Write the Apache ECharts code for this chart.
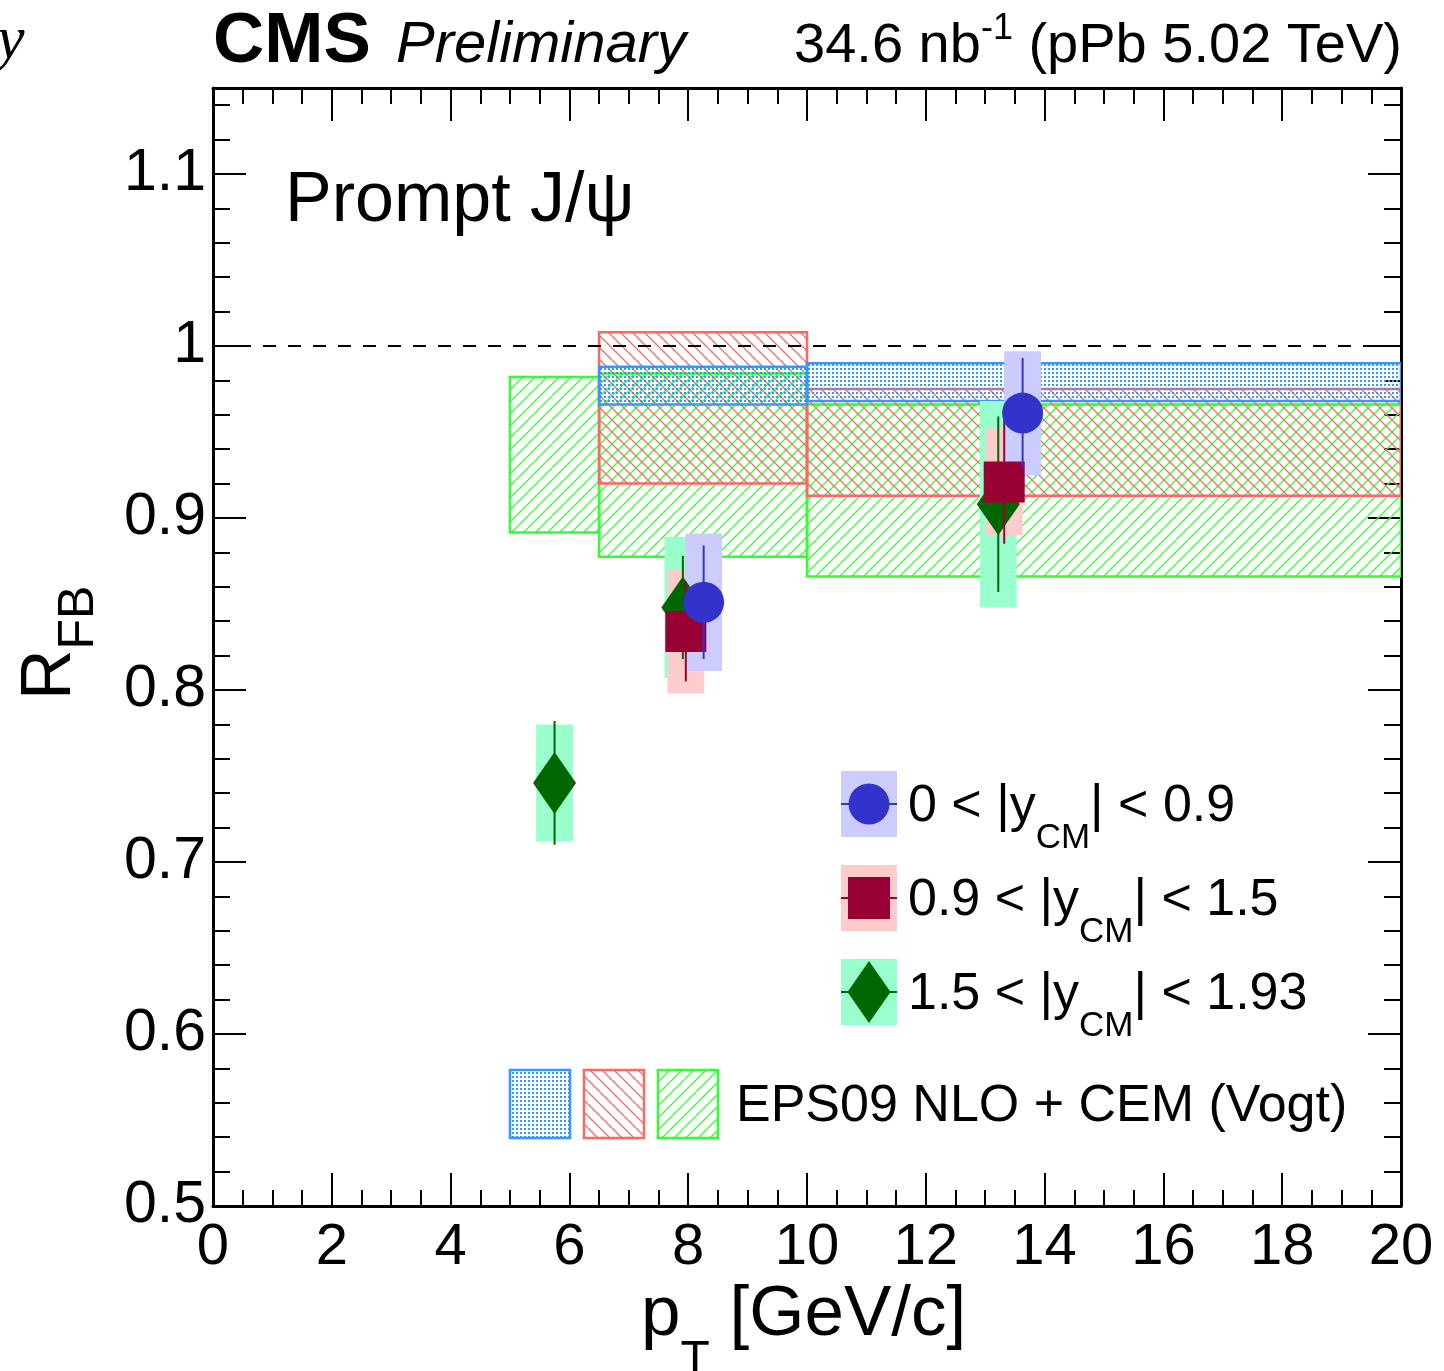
<!DOCTYPE html>
<html><head><meta charset="utf-8">
<script src="https://cdn.jsdelivr.net/npm/echarts@6/dist/echarts.min.js"></script>
<style>html,body{margin:0;padding:0;background:#fff}#c{width:1444px;height:1371px}</style>
</head><body><div id="c"></div>
<script>
// ------------------ DATA ------------------
const xRange = [0, 20];
const yRange = [0.5, 1.15];
const xTickValues = [0, 2, 4, 6, 8, 10, 12, 14, 16, 18, 20];
const xTickLabels = ['0', '2', '4', '6', '8', '10', '12', '14', '16', '18', '20'];
const yTickValues = [0.5, 0.6, 0.7, 0.8, 0.9, 1.0, 1.1];
const yTickLabels = ['0.5', '0.6', '0.7', '0.8', '0.9', '1', '1.1'];
const unityLevel = 1.0;

// data points: 0 < |y_CM| < 0.9
const bluePt = [8.26, 13.63];
const blueVal = [0.851, 0.961];
const blueStat = [0.033, 0.032];
const blueSyst = [0.040, 0.036];
// 0.9 < |y_CM| < 1.5
const redPt = [7.96, 13.32];
const redVal = [0.834, 0.921];
const redStat = [0.029, 0.036];
const redSyst = [0.036, 0.031];
// 1.5 < |y_CM| < 1.93
const greenPt = [5.75, 7.91, 13.22];
const greenVal = [0.746, 0.848, 0.908];
const greenStat = [0.036, 0.030, 0.051];
const greenSyst = [0.034, 0.041, 0.060];

// EPS09 NLO + CEM (Vogt) bands
const thBlueBinLo = [6.5, 10];
const thBlueBinHi = [10, 20];
const thBlueLo = [0.966, 0.968];
const thBlueHi = [0.988, 0.990];
const thRedBinLo = [6.5, 10];
const thRedBinHi = [10, 20];
const thRedLo = [0.920, 0.913];
const thRedHi = [1.008, 0.975];
const thGreenBinLo = [5, 6.5, 10];
const thGreenBinHi = [6.5, 10, 20];
const thGreenLo = [0.8915, 0.8775, 0.866];
const thGreenHi = [0.982, 0.984, 0.966];

const legendLabels = [
  ['0 < |y', 'CM', '| < 0.9'],
  ['0.9 < |y', 'CM', '| < 1.5'],
  ['1.5 < |y', 'CM', '| < 1.93']
];
const theoryLabel = 'EPS09 NLO + CEM (Vogt)';

// ------------------ STYLE ------------------
const FF = '"Liberation Sans", Arial, Helvetica, sans-serif';
const BOX_HW = 0.31; // half width of syst boxes (GeV/c)
const C = {
  blueM: '#3333cc', redM: '#990033', greenM: '#006600',
  blueB: '#ccccff', redB: '#ffcccc', greenB: '#99ffcc',
  blueT: '#3399ff', redT: '#ff6666', greenT: '#33ff33'
};

function hatch(color, dir, s) {
  const c = document.createElement('canvas'); c.width = s; c.height = s;
  const g = c.getContext('2d'); g.strokeStyle = color; g.lineWidth = 1.3;
  g.beginPath();
  for (let k = -1; k <= 1; k++) {
    if (dir === '/') { g.moveTo(k * s, s); g.lineTo(k * s + s, 0); }
    else { g.moveTo(k * s, 0); g.lineTo(k * s + s, s); }
  }
  g.stroke();
  return { image: c, repeat: 'repeat' };
}
function dots(color) {
  const c = document.createElement('canvas'); c.width = 4; c.height = 4;
  const g = c.getContext('2d'); g.fillStyle = color; g.fillRect(0, 0, 2, 2);
  return { image: c, repeat: 'repeat' };
}
const patBlue = dots(C.blueT);
const patRed = hatch(C.redT, '\\', 12);
const patGreen = hatch(C.greenT, '/', 12);

// ------------------ SERIES ------------------
function theorySeries(lo_x, hi_x, lo, hi, pat, stroke, z) {
  return {
    type: 'custom', z, silent: true, clip: true,
    encode: { x: [0, 1], y: [2, 3] },
    data: lo_x.map((x, i) => [x, hi_x[i], lo[i], hi[i]]),
    renderItem(params, api) {
      const p1 = api.coord([api.value(0), api.value(3)]);
      const p2 = api.coord([api.value(1), api.value(2)]);
      return { type: 'rect', shape: { x: p1[0], y: p1[1], width: p2[0] - p1[0], height: p2[1] - p1[1] },
        style: { fill: pat, stroke, lineWidth: 2.5 } };
    }
  };
}
function systSeries(xs, ys, es, fill, z) {
  return {
    type: 'custom', z, silent: true,
    encode: { x: 0, y: 1 },
    data: xs.map((x, i) => [x, ys[i], es[i]]),
    renderItem(params, api) {
      const x = api.value(0), y = api.value(1), e = api.value(2);
      const p1 = api.coord([x - BOX_HW, y + e]);
      const p2 = api.coord([x + BOX_HW, y - e]);
      return { type: 'rect', shape: { x: p1[0], y: p1[1], width: p2[0] - p1[0], height: p2[1] - p1[1] }, style: { fill } };
    }
  };
}
function errSeries(xs, ys, es, color, z) {
  return {
    type: 'custom', z, silent: true,
    encode: { x: 0, y: 1 },
    data: xs.map((x, i) => [x, ys[i], es[i]]),
    renderItem(params, api) {
      const x = api.value(0), y = api.value(1), e = api.value(2);
      const p1 = api.coord([x, y + e]);
      const p2 = api.coord([x, y - e]);
      return { type: 'line', shape: { x1: p1[0], y1: p1[1], x2: p2[0], y2: p2[1] }, style: { stroke: color, lineWidth: 2 } };
    }
  };
}
function markerSeries(xs, ys, symbol, size, color, z) {
  return {
    type: 'scatter', z, silent: true, symbol, symbolSize: size,
    data: xs.map((x, i) => [x, ys[i]]),
    itemStyle: { color, opacity: 1 }
  };
}

// ------------------ TEXT HELPERS ------------------
const mctx = document.createElement('canvas').getContext('2d');
function fontStr(size, style, weight, fam) {
  return (style || 'normal') + ' ' + (weight || 'normal') + ' ' + size + 'px ' + (fam || FF);
}
function tw(t, f) { mctx.font = f; return mctx.measureText(t).width; }
function txt(t, x, base, size, o) {
  o = o || {};
  const f = fontStr(size, o.style, o.weight, o.fam);
  return { type: 'text', z: 100, silent: true,
    style: { text: t, x, y: base - 0.35 * size, font: f, fill: '#000',
      align: o.align || 'left', textAlign: o.align || 'left',
      verticalAlign: 'middle', textVerticalAlign: 'middle' } };
}
function seq(x, base, parts) {
  const out = [];
  parts.forEach(p => {
    const f = fontStr(p.size, p.style, p.weight, p.fam);
    out.push(txt(p.t, x, base + (p.dy || 0), p.size, p));
    x += tw(p.t, f);
  });
  return out;
}
function seqWidth(parts) {
  return parts.reduce((s, p) => s + tw(p.t, fontStr(p.size, p.style, p.weight, p.fam)), 0);
}

const graphics = [];
// header
graphics.push(txt('y', -3, 63, 62, { style: 'italic', fam: '"Liberation Serif", "Times New Roman", serif' }));
graphics.push(txt('CMS', 213, 67, 71, { weight: 'bold' }));
graphics.push(txt('Preliminary', 396, 66, 58, { style: 'italic' }));
const lumiParts = [
  { t: '34.6 nb', size: 56 },
  { t: '-1', size: 36, dy: -24 },
  { t: ' (pPb 5.02 TeV)', size: 56 }
];
graphics.push(...seq(1402 - seqWidth(lumiParts), 66, lumiParts));
// Prompt J/psi
graphics.push(txt('Prompt J/\u03c8', 285, 226, 70));
// x title
graphics.push(...seq(641, 1340, [
  { t: 'p', size: 71 },
  { t: 'T', size: 48, dy: 38 },
  { t: ' [GeV/c]', size: 71 }
]));
// y title (rotated)
function rtxt(t, X, Y, size) {
  const f = fontStr(size);
  return { type: 'text', z: 100, silent: true, x: X, y: Y, rotation: Math.PI / 2,
    style: { text: t, x: 0, y: 0, font: f, fill: '#000', align: 'left', textAlign: 'left',
      verticalAlign: 'middle', textVerticalAlign: 'middle' } };
}
const rW = tw('R', fontStr(70));
graphics.push(rtxt('R', 75 - 0.35 * 70, 700, 70));
graphics.push(rtxt('FB', 97 - 0.35 * 50, 700 - rW, 50));

// legend 1 (data)
const leg = [
  { y0: 771, box: C.blueB, col: C.blueM, sym: 'circle' },
  { y0: 865, box: C.redB, col: C.redM, sym: 'rect' },
  { y0: 959, box: C.greenB, col: C.greenM, sym: 'diamond' }
];
leg.forEach((L, i) => {
  const bx = 841, bw = 56, bh = 66, cx = bx + bw / 2, cy = L.y0 + bh / 2;
  graphics.push({ type: 'rect', z: 90, silent: true, shape: { x: bx, y: L.y0, width: bw, height: bh }, style: { fill: L.box } });
  graphics.push({ type: 'line', z: 91, silent: true, shape: { x1: bx, y1: cy, x2: bx + bw, y2: cy }, style: { stroke: L.col, lineWidth: 2 } });
  if (L.sym === 'circle') graphics.push({ type: 'circle', z: 92, silent: true, shape: { cx, cy, r: 20.5 }, style: { fill: L.col } });
  else if (L.sym === 'rect') graphics.push({ type: 'rect', z: 92, silent: true, shape: { x: cx - 21, y: cy - 21, width: 42, height: 42 }, style: { fill: L.col } });
  else graphics.push({ type: 'polygon', z: 92, silent: true, shape: { points: [[cx - 21.5, cy], [cx, cy - 31], [cx + 21.5, cy], [cx, cy + 31]] }, style: { fill: L.col } });
  const base = L.y0 + 54;
  const lab = legendLabels[i];
  graphics.push(...seq(908, base, [
    { t: lab[0], size: 52 },
    { t: lab[1], size: 35, dy: 26 },
    { t: lab[2], size: 52 }
  ]));
});
// legend 2 (theory)
[[510, patBlue, C.blueT], [584, patRed, C.redT], [658, patGreen, C.greenT]].forEach(b => {
  graphics.push({ type: 'rect', z: 90, silent: true, shape: { x: b[0], y: 1070, width: 60, height: 68 },
    style: { fill: b[1], stroke: b[2], lineWidth: 2.5 } });
});
graphics.push(txt(theoryLabel, 736, 1125, 52));

// ------------------ AXES ------------------
function lookup(vals, labs) {
  return v => { const i = vals.findIndex(t => Math.abs(t - v) < 1e-6); return i >= 0 ? labs[i] : ''; };
}
const blackLine = { color: '#000', width: 2 };
function xAx(pos, labels) {
  return {
    type: 'value', min: xRange[0], max: xRange[1], interval: 2, position: pos,
    axisLine: { show: true, onZero: false, lineStyle: { color: '#000', width: 3 } },
    axisTick: { show: true, inside: true, length: 33, lineStyle: blackLine },
    minorTick: { show: true, splitNumber: 4, length: 16, lineStyle: blackLine },
    splitLine: { show: false }, minorSplitLine: { show: false },
    axisLabel: labels ? { show: true, fontSize: 58, fontFamily: FF, color: '#000', margin: 13,
      formatter: lookup(xTickValues, xTickLabels), hideOverlap: false } : { show: false }
  };
}
function yAx(pos, major, labels) {
  return {
    type: 'value', min: yRange[0], max: yRange[1], interval: major ? 0.1 : 0.02, position: pos, offset: 0,
    axisLine: { show: major, onZero: false, lineStyle: { color: '#000', width: 3 } },
    axisTick: { show: true, inside: true, length: major ? 33 : 17, lineStyle: blackLine },
    splitLine: { show: false },
    axisLabel: labels ? { show: true, fontSize: 59, fontFamily: FF, color: '#000', margin: 7,
      showMaxLabel: false, formatter: lookup(yTickValues, yTickLabels), hideOverlap: false } : { show: false }
  };
}

const option = {
  animation: false,
  backgroundColor: '#fff',
  grid: { left: 213, right: 43, top: 88, bottom: 165, show: false, outerBoundsMode: 'none', containLabel: false },
  xAxis: [xAx('bottom', true), xAx('top', false)],
  yAxis: [yAx('left', true, true), yAx('left', false, false), yAx('right', true, false), yAx('right', false, false)],
  series: [
    theorySeries(thGreenBinLo, thGreenBinHi, thGreenLo, thGreenHi, patGreen, C.greenT, 1),
    theorySeries(thRedBinLo, thRedBinHi, thRedLo, thRedHi, patRed, C.redT, 2),
    theorySeries(thBlueBinLo, thBlueBinHi, thBlueLo, thBlueHi, patBlue, C.blueT, 3),
    { type: 'line', z: 4, silent: true, symbol: 'none',
      data: [[xRange[0], unityLevel], [xRange[1], unityLevel]],
      lineStyle: { color: '#000', width: 2, type: [13, 12] } },
    systSeries(greenPt, greenVal, greenSyst, C.greenB, 5),
    systSeries(redPt, redVal, redSyst, C.redB, 6),
    systSeries(bluePt, blueVal, blueSyst, C.blueB, 7),
    errSeries(greenPt, greenVal, greenStat, C.greenM, 10),
    markerSeries(greenPt, greenVal, 'diamond', [43, 62], C.greenM, 11),
    errSeries(redPt, redVal, redStat, C.redM, 12),
    markerSeries(redPt, redVal, 'rect', [41, 41], C.redM, 13),
    errSeries(bluePt, blueVal, blueStat, C.blueM, 14),
    markerSeries(bluePt, blueVal, 'circle', [41, 41], C.blueM, 15)
  ],
  graphic: { elements: graphics }
};
const chart = echarts.init(document.getElementById('c'), null, { renderer: 'canvas' });
chart.setOption(option);
</script></body></html>
